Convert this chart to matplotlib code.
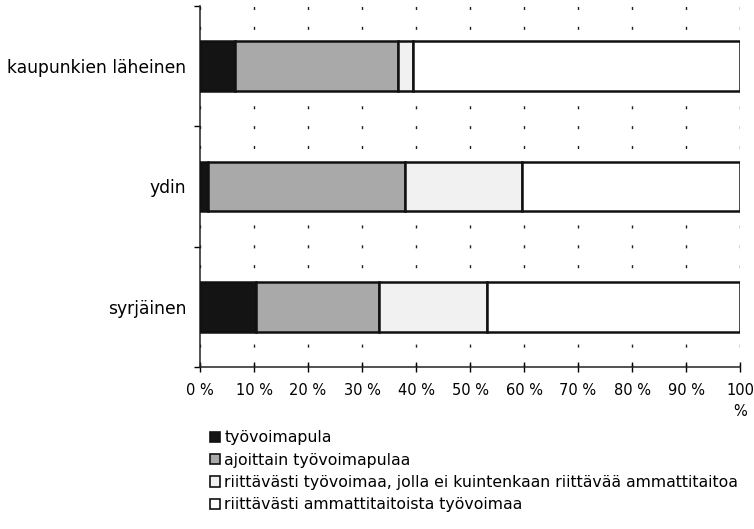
import matplotlib
matplotlib.use("Agg")
import matplotlib.pyplot as plt
from matplotlib.patches import Patch
from matplotlib.ticker import FixedLocator

# data (% shares, stacked to 100)
categories = ['kaupunkien läheinen', 'ydin', 'syrjäinen']
tyovoimapula = [6.5, 1.4, 10.3]
ajoittain = [30.1, 36.6, 22.8]
riittavasti_ei_taitoa = [2.8, 21.6, 20.1]
riittavasti_taitoa = [60.6, 40.4, 46.8]

series_names = [
    'työvoimapula',
    'ajoittain työvoimapulaa',
    'riittävästi työvoimaa, jolla ei kuintenkaan riittävää ammattitaitoa',
    'riittävästi ammattitaitoista työvoimaa',
]
series_colors = ['#141414', '#a9a9a9', '#f1f1f1', '#ffffff']
x_ticks = list(range(0, 101, 10))
x_labels = ['%d %%' % t for t in x_ticks[:-1]] + ['100\n%']

plt.rcParams['font.family'] = ['DejaVu Sans']

fig = plt.figure(figsize=(7.54, 5.29), dpi=100)
ax = fig.add_axes([200 / 754, 1 - 367 / 529, 540 / 754, 361 / 529])

ypos = list(range(len(categories)))
left = [0.0] * len(categories)
for vals, col in zip([tyovoimapula, ajoittain, riittavasti_ei_taitoa, riittavasti_taitoa], series_colors):
    ax.barh(ypos, vals, left=left, height=0.41, color=col, edgecolor='#111111',
            linewidth=1.8, zorder=3)
    left = [l + v for l, v in zip(left, vals)]

ax.set_xlim(0, 100)
ax.set_ylim(len(categories) - 0.5, -0.5)

ax.set_xticks(x_ticks)
ax.set_xticklabels(x_labels, fontsize=10.5, linespacing=1.5)
ax.tick_params(axis='x', direction='inout', length=7, width=1, pad=8)

ax.set_yticks(ypos)
ax.set_yticklabels(categories, fontsize=12.3)
ax.tick_params(axis='y', which='major', length=0, pad=10)
ax.yaxis.set_minor_locator(FixedLocator([-0.5, 0.5, 1.5, 2.5]))
ax.tick_params(axis='y', which='minor', direction='out', length=4, width=1)

ax.xaxis.grid(True, color='#222222', linewidth=1.0, linestyle=(0, (2.2, 12.1)))
ax.set_axisbelow(True)

for s in ['top', 'right']:
    ax.spines[s].set_visible(False)
for s in ['left', 'bottom']:
    ax.spines[s].set_linewidth(1.1)
    ax.spines[s].set_color('#222222')

handles = [Patch(facecolor=c, edgecolor='#111111', linewidth=1.2) for c in series_colors]
fig.legend(handles, series_names, loc='upper left', bbox_to_anchor=(204 / 754, 1 - 424 / 529),
           frameon=False, fontsize=11.3, handlelength=0.65, handleheight=0.65,
           handletextpad=0.25, labelspacing=0.47, borderaxespad=0)

fig.savefig('out.png', dpi=100)
